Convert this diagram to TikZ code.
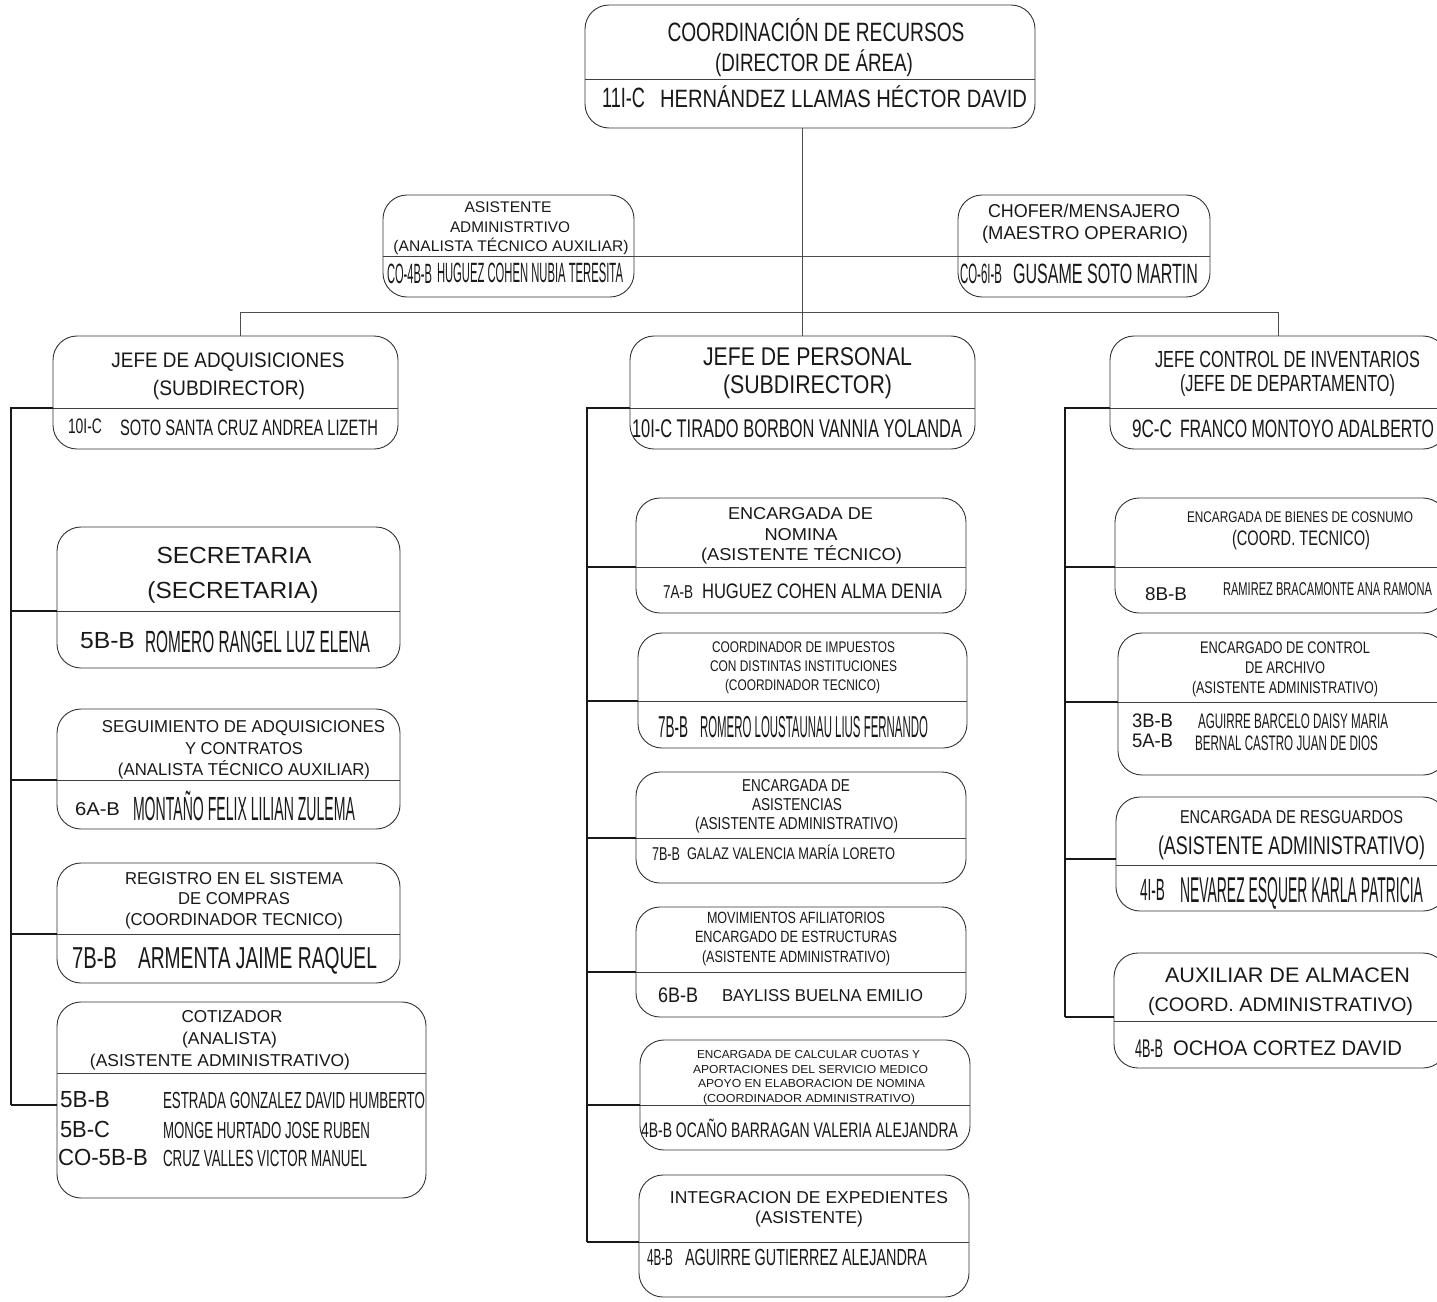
\documentclass[tikz,border=0pt]{standalone}
\usepackage{fontspec}
\setmainfont{Liberation Sans}
\usepackage{graphicx}
\newcommand\txc[6]{\node[tc] (#1) at (#2,#3) {\fontsize{#4}{#4}\selectfont\resizebox{#5pt}{\height}{#6}};}
\newcommand\txl[6]{\node[tl] (#1) at (#2,#3) {\fontsize{#4}{#4}\selectfont\resizebox{#5pt}{\height}{#6}};}
\newcommand\bx[6]{%
  \node[box, minimum width={(#4-#2)*1pt}, minimum height={(#5-#3)*1pt}] (#1) at ({(#2+#4)/2},{(#3+#5)/2}) {};
  \coordinate (#1-d) at (#2,#6);
  \coordinate (#1-de) at (#4,#6);
  \draw[divl] (#1-d) -- (#1-de);}
\tikzset{
  box/.style={draw=black!80, line width=0.9pt, rounded corners=24pt, inner sep=0pt, outer sep=0pt},
  divl/.style={draw=black!75, line width=0.9pt},
  conn/.style={draw=black!70, line width=0.9pt},
  spine/.style={draw=black!90, line width=1.6pt},
  tc/.style={anchor=base, inner sep=0pt, outer sep=0pt, text=black!90},
  tl/.style={anchor=base west, inner sep=0pt, outer sep=0pt, text=black!90},
}
\begin{document}
\begin{tikzpicture}[x=1pt,y=-1pt]
\useasboundingbox (0,0) rectangle (1437,1301);
\fill[white] (0,0) rectangle (1437,1301);
\clip (0,0) rectangle (1437,1301);

% ---------- boxes ----------
\bx{top}{585}{5}{1035}{128}{79}
\bx{asis}{383}{195}{634}{297}{256}
\bx{chof}{958}{195}{1210}{297}{256}
\bx{jadq}{53}{336}{398}{449}{408}
\bx{secr}{57}{527}{400}{668}{611}
\bx{segu}{57}{709}{400}{829}{780}
\bx{regi}{57}{863}{400}{983}{934}
\bx{coti}{57}{1002}{426}{1198}{1073}
\bx{jper}{630}{336}{975}{449}{408}
\bx{nomi}{636}{498}{966}{613}{567}
\bx{impu}{638}{633}{967}{748}{701}
\bx{asit}{636}{772}{966}{883}{838}
\bx{movi}{636}{907}{966}{1017}{972}
\bx{calc}{640}{1040}{970}{1150}{1105}
\bx{inte}{639}{1175}{969}{1297}{1242}
\bx{jinv}{1110}{336}{1447}{449}{408}
\bx{bien}{1115}{498}{1447}{613}{567}
\bx{arch}{1118}{633}{1447}{775}{702}
\bx{resg}{1116}{797}{1447}{911}{865}
\bx{alma}{1114}{953}{1447}{1068}{1021}

% ---------- connectors ----------
\coordinate (bar) at (0,312);
\coordinate (jadq-top) at (240,336);
\draw[conn] (jper.north) -- (jper.north |- top.south);
\draw[conn] (jadq-top) |- (jinv.north |- bar) -- (jinv.north);
\draw[conn] (asis-de) -- (chof-d);

\coordinate (sp1) at (11,408);
\coordinate (coti-c) at (57,1105);
\draw[spine] (jadq-d) -- (sp1) -- (sp1 |- coti-c);
\foreach \c in {secr,segu,regi} \draw[spine] (sp1 |- \c-d) -- (\c-d);
\draw[spine] (sp1 |- coti-c) -- (coti-c);

\coordinate (sp2) at (587,408);
\draw[spine] (jper-d) -- (sp2) -- (sp2 |- inte-d);
\foreach \c in {nomi,impu,asit,movi,calc,inte} \draw[spine] (sp2 |- \c-d) -- (\c-d);

\coordinate (sp3) at (1065,408);
\coordinate (resg-c) at (1116,859);
\coordinate (alma-c) at (1114,1017);
\draw[spine] (jinv-d) -- (sp3) -- (sp3 |- alma-c);
\foreach \c in {bien,arch} \draw[spine] (sp3 |- \c-d) -- (\c-d);
\draw[spine] (sp3 |- resg-c) -- (resg-c);
\draw[spine] (sp3 |- alma-c) -- (alma-c);

% ---------- texts ----------
\txc{ta}{816}{41}{26.5}{297}{COORDINACIÓN DE RECURSOS}
\txc{tb}{814}{71}{25.1}{198}{(DIRECTOR DE ÁREA)}
\txl{tc1}{602}{107}{27.9}{43}{11I-C}
\txl{td}{660}{107}{25.1}{367}{HERNÁNDEZ LLAMAS HÉCTOR DAVID}

\txc{a1}{508}{212}{15.4}{87}{ASISTENTE}
\txc{a2}{510}{232}{15.4}{120}{ADMINISTRTIVO}
\txc{a3}{511}{251}{15.4}{235}{(ANALISTA TÉCNICO AUXILIAR)}
\txl{a4}{387}{283}{27.9}{45}{CO-4B-B}
\txl{a5}{437}{282}{27.9}{186}{HUGUEZ COHEN NUBIA TERESITA}

\txc{c1}{1084}{217}{18.6}{192}{CHOFER/MENSAJERO}
\txc{c2}{1085}{239}{18.6}{206}{(MAESTRO OPERARIO)}
\txl{c3}{960}{283}{27.9}{42}{CO-6I-B}
\txl{c4}{1013}{283}{27.9}{185}{GUSAME SOTO MARTIN}

\txc{j1}{228}{367}{21}{233}{JEFE DE ADQUISICIONES}
\txc{j2}{229}{395}{21}{152}{(SUBDIRECTOR)}
\txl{j3}{68}{433}{21}{34}{10I-C}
\txl{j4}{120}{435}{22.3}{258}{SOTO SANTA CRUZ ANDREA LIZETH}

\txc{s1}{234}{563}{23.3}{155}{SECRETARIA}
\txc{s2}{233}{598}{23.3}{171}{(SECRETARIA)}
\txl{s3}{80}{648}{23.3}{55}{5B-B}
\txl{s4}{145}{652}{30.7}{225}{ROMERO RANGEL LUZ ELENA}

\txc{g1}{243.5}{732}{17.2}{283}{SEGUIMIENTO DE ADQUISICIONES}
\txc{g2}{244}{754}{17.2}{118}{Y CONTRATOS}
\txc{g3}{244}{775}{17.2}{252}{(ANALISTA TÉCNICO AUXILIAR)}
\txl{g4}{75}{815}{18.6}{45}{6A-B}
\txl{g5}{133}{820}{33.5}{222}{MONTAÑO FELIX LILIAN ZULEMA}

\txc{r1}{234}{884}{17.2}{218}{REGISTRO EN EL SISTEMA}
\txc{r2}{234}{904}{17.2}{112}{DE COMPRAS}
\txc{r3}{234}{925}{17.2}{218}{(COORDINADOR TECNICO)}
\txl{r4}{72}{968}{30.3}{45}{7B-B}
\txl{r5}{138}{968}{30.3}{239}{ARMENTA JAIME RAQUEL}

\txc{k1}{232}{1022}{17.2}{101}{COTIZADOR}
\txc{k2}{229.5}{1044}{17.2}{95}{(ANALISTA)}
\txc{k3}{220}{1066}{17.2}{260}{(ASISTENTE ADMINISTRATIVO)}
\txl{k4}{60}{1107}{23.3}{50}{5B-B}
\txl{k5}{163}{1108}{23.3}{262}{ESTRADA GONZALEZ DAVID HUMBERTO}
\txl{k6}{60}{1137}{23.3}{50}{5B-C}
\txl{k7}{163}{1138}{23.3}{207}{MONGE HURTADO JOSE RUBEN}
\txl{k8}{58}{1165}{23.3}{90}{CO-5B-B}
\txl{k9}{163}{1166}{23.3}{204}{CRUZ VALLES VICTOR MANUEL}

\txc{p1}{807.5}{365}{25.6}{209}{JEFE DE PERSONAL}
\txc{p2}{807.5}{393}{25.6}{169}{(SUBDIRECTOR)}
\txl{p3}{632}{437}{25.6}{330}{10I-C TIRADO BORBON VANNIA YOLANDA}

\txc{n1}{800.5}{519}{17.2}{145}{ENCARGADA DE}
\txc{n2}{801}{540}{17.2}{73}{NOMINA}
\txc{n3}{801.5}{560}{17.2}{201}{(ASISTENTE TÉCNICO)}
\txl{n4}{663}{598}{18.6}{30}{7A-B}
\txl{n5}{702}{598}{21}{240}{HUGUEZ COHEN ALMA DENIA}

\txc{i1}{803.5}{652}{15.4}{183}{COORDINADOR DE IMPUESTOS}
\txc{i2}{803.5}{671}{15.4}{187}{CON DISTINTAS INSTITUCIONES}
\txc{i3}{802.5}{690}{15.4}{155}{(COORDINADOR TECNICO)}
\txl{i4}{658}{737}{30.3}{30}{7B-B}
\txl{i5}{700}{737}{30.3}{228}{ROMERO LOUSTAUNAU LIUS FERNANDO}

\txc{e1}{796}{791}{17.2}{108}{ENCARGADA DE}
\txc{e2}{797}{810}{17.2}{90}{ASISTENCIAS}
\txc{e3}{796.5}{829}{17.2}{203}{(ASISTENTE ADMINISTRATIVO)}
\txl{e4}{652}{860}{18.6}{28}{7B-B}
\txl{e5}{687}{859}{16.8}{208}{GALAZ VALENCIA MARÍA LORETO}

\txc{m1}{796}{923}{16.3}{178}{MOVIMIENTOS AFILIATORIOS}
\txc{m2}{796}{942}{16.3}{202}{ENCARGADO DE ESTRUCTURAS}
\txc{m3}{796}{962}{16.3}{188}{(ASISTENTE ADMINISTRATIVO)}
\txl{m4}{658}{1002}{21}{40}{6B-B}
\txl{m5}{722}{1001}{17.2}{201}{BAYLISS BUELNA EMILIO}

\txc{q1}{808.5}{1058}{11.6}{223}{ENCARGADA DE CALCULAR CUOTAS Y}
\txc{q2}{810.5}{1073}{11.6}{235}{APORTACIONES DEL SERVICIO MEDICO}
\txc{q3}{811.5}{1087}{11.6}{227}{APOYO EN ELABORACION DE NOMINA}
\txc{q4}{809}{1102}{11.6}{212}{(COORDINADOR ADMINISTRATIVO)}
\txl{q5}{641}{1137}{21}{317}{4B-B OCAÑO BARRAGAN VALERIA ALEJANDRA}

\txc{v1}{809}{1203}{17.2}{278}{INTEGRACION DE EXPEDIENTES}
\txc{v2}{809}{1223}{17.2}{108}{(ASISTENTE)}
\txl{v3}{647}{1265}{23.3}{26}{4B-B}
\txl{v4}{685}{1265}{23.3}{242}{AGUIRRE GUTIERREZ ALEJANDRA}

\txc{w1}{1287.5}{367}{23.3}{265}{JEFE CONTROL DE INVENTARIOS}
\txc{w2}{1287.5}{391}{23.3}{215}{(JEFE DE DEPARTAMENTO)}
\txl{w3}{1132}{437}{25.1}{40}{9C-C}
\txl{w4}{1180}{437}{25.1}{254}{FRANCO MONTOYO ADALBERTO}

\txc{b1}{1300}{522}{15.4}{226}{ENCARGADA DE BIENES DE COSNUMO}
\txc{b2}{1301}{545}{21}{138}{(COORD. TECNICO)}
\txl{b3}{1145}{600}{18.6}{42}{8B-B}
\txl{b4}{1223}{595}{18.6}{209}{RAMIREZ BRACAMONTE ANA RAMONA}

\txc{h1}{1285}{653}{16.8}{170}{ENCARGADO DE CONTROL}
\txc{h2}{1285}{673}{16.8}{80}{DE ARCHIVO}
\txc{h3}{1285}{693}{16.8}{186}{(ASISTENTE ADMINISTRATIVO)}
\txl{h4}{1132}{727}{19.6}{41}{3B-B}
\txl{h5}{1198}{728}{21}{190}{AGUIRRE BARCELO DAISY MARIA}
\txl{h6}{1132}{747}{19.6}{41}{5A-B}
\txl{h7}{1195}{750}{21}{183}{BERNAL CASTRO JUAN DE DIOS}

\txc{xa}{1291.5}{823}{18.6}{223}{ENCARGADA DE RESGUARDOS}
\txc{xb}{1291.5}{854}{25.6}{267}{(ASISTENTE ADMINISTRATIVO)}
\txl{xc}{1140}{900}{30.7}{25}{4I-B}
\txl{xd}{1180}{902}{35.9}{243}{NEVAREZ ESQUER KARLA PATRICIA}

\txc{ya}{1287.5}{982}{21}{245}{AUXILIAR DE ALMACEN}
\txc{yb}{1280.5}{1011}{19.6}{265}{(COORD. ADMINISTRATIVO)}
\txl{yc}{1135}{1057}{25.6}{28}{4B-B}
\txl{yd}{1173}{1055}{21}{229}{OCHOA CORTEZ DAVID}
\end{tikzpicture}
\end{document}
